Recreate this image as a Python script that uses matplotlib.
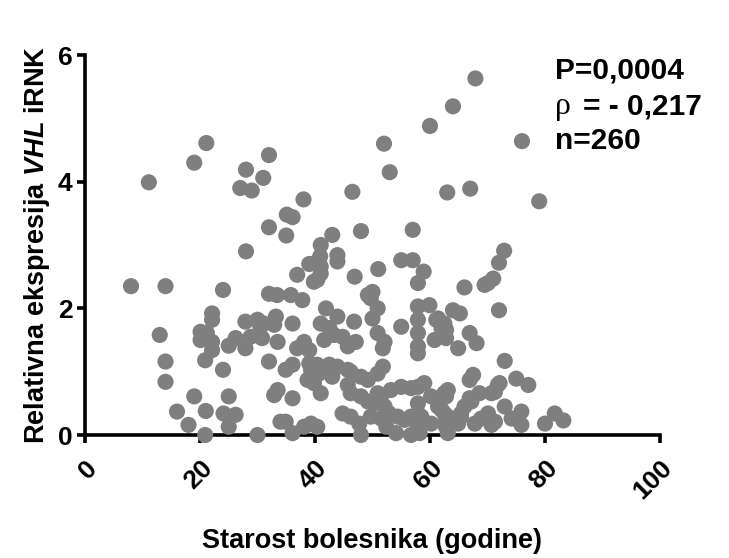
import numpy as np
import matplotlib
matplotlib.use("Agg")
import matplotlib.pyplot as plt

plt.rcParams['font.family'] = ['Liberation Sans', 'DejaVu Sans']
plt.rcParams['mathtext.fontset'] = 'custom'
plt.rcParams['mathtext.it'] = 'Liberation Sans:italic:bold'
plt.rcParams['mathtext.rm'] = 'Liberation Sans:bold'

# age (years) and relative VHL mRNA expression
upper_x = [21.1, 19.0, 11.1, 32.0, 28.0, 31.0, 27.0, 29.0, 38.0, 35.1, 36.1, 32.0, 35.0, 43.0, 41.0,
           43.9, 43.9, 40.9, 39.0, 41.0, 41.0, 36.9, 28.0, 46.5, 67.9, 64.0, 60.0, 52.0, 76.0, 53.0,
           63.0, 67.0, 79.0, 48.0, 57.0, 72.9, 72.0, 55.0, 57.0, 51.0, 58.9, 46.9, 71.0, 40.4, 39.8, 40.4]
upper_y = [4.61, 4.30, 3.99, 4.42, 4.19, 4.06, 3.90, 3.86, 3.72, 3.48, 3.44, 3.28, 3.15, 3.16, 3.00,
           2.84, 2.74, 2.82, 2.70, 2.66, 2.55, 2.53, 2.90, 3.84, 5.63, 5.19, 4.88, 4.60, 4.64, 4.15,
           3.83, 3.89, 3.69, 3.22, 3.24, 2.91, 2.72, 2.76, 2.76, 2.62, 2.58, 2.50, 2.47, 2.74, 2.42, 2.45]

left_x = [8.0, 14.0, 24.0, 13.0, 14.0, 14.0, 19.0, 16.0, 18.0, 21.0, 20.9, 25.0, 24.1, 26.2, 25.0,
          30.0, 22.1, 22.1, 20.1, 21.2, 20.1, 22.1, 22.1, 20.9, 25.0, 26.2, 27.9, 24.0, 27.9, 30.0,
          31.1, 32.0, 33.2, 32.9, 30.8, 33.5, 32.0, 32.9, 34.0, 28.8, 30.5]
left_y = [2.35, 2.35, 2.29, 1.58, 1.16, 0.84, 0.61, 0.37, 0.16, 0.38, 0.00, 0.61, 0.34, 0.32, 0.13,
          0.00, 1.92, 1.82, 1.63, 1.61, 1.50, 1.47, 1.34, 1.18, 1.41, 1.53, 1.37, 1.03, 1.79, 1.82,
          1.76, 2.23, 1.87, 1.74, 1.53, 1.47, 1.16, 0.63, 0.21, 1.55, 1.71]

mid_x = [57.9, 33.4, 35.8, 37.8, 49.2, 49.7, 50.9, 50.0, 41.9, 43.9, 41.0, 42.5, 46.8, 36.1, 55.0,
         57.9, 57.9, 57.9, 57.9, 57.9, 50.9, 52.1, 51.8, 38.1, 36.9, 39.0, 43.3, 44.8, 45.7, 47.1,
         41.6, 34.9, 36.1, 39.0, 40.4, 42.5, 43.9, 45.7, 39.3, 40.7, 43.0, 38.7, 39.8, 41.0, 46.2,
         48.0, 49.2, 50.9, 51.8, 45.7, 46.2, 48.0, 49.2, 50.9, 33.5, 36.1, 34.9, 36.1, 38.1, 39.3,
         40.4, 44.8, 46.2, 47.7, 48.0, 49.7, 51.5, 52.9, 54.4, 55.6, 56.7, 57.9, 50.3, 51.5, 53.2,
         55.0, 56.7, 57.9, 52.1, 52.4, 54.1, 56.7, 58.2, 50.0]
mid_y = [2.40, 2.21, 2.21, 2.13, 2.21, 2.16, 2.00, 1.84, 2.00, 1.87, 1.76, 1.69, 1.79, 1.76, 1.71,
         1.82, 1.61, 1.40, 1.29, 2.03, 1.61, 1.47, 1.37, 1.47, 1.37, 1.34, 1.58, 1.55, 1.40, 1.47,
         1.50, 1.03, 1.11, 1.13, 1.11, 1.11, 1.08, 1.03, 1.03, 0.97, 0.92, 0.87, 0.82, 0.66, 1.00,
         0.92, 0.87, 0.97, 1.08, 0.79, 0.66, 0.61, 0.53, 0.66, 0.71, 0.58, 0.21, 0.03, 0.13, 0.18,
         0.13, 0.34, 0.29, 0.18, 0.00, 0.29, 0.26, 0.34, 0.29, 0.24, 0.29, 0.34, 0.50, 0.61, 0.71,
         0.76, 0.74, 0.76, 0.45, 0.13, 0.03, 0.00, 0.03, 2.26]

right_x = [66.0, 70.1, 69.5, 72.0, 59.9, 64.0, 65.2, 61.1, 62.0, 60.8, 62.8, 64.9, 66.9, 68.1, 73.0,
           67.5, 66.9, 75.0, 77.1, 71.8, 70.7, 68.6, 67.2, 66.0, 59.0, 62.5, 60.2, 61.4, 62.5, 73.0,
           75.9, 74.2, 75.9, 70.1, 68.9, 67.8, 71.3, 70.7, 65.4, 64.9, 80.0, 81.7, 83.2, 57.9, 58.5,
           57.9, 60.2, 62.5, 63.1, 61.4, 62.5, 62.8, 63.1, 62.8, 62.0, 63.1, 62.8, 66.9, 71.3, 72.1,
           65.4]
right_y = [2.33, 2.40, 2.37, 1.97, 2.05, 1.97, 1.92, 1.82, 1.69, 1.50, 1.53, 1.37, 1.61, 1.45, 1.17,
           0.95, 0.87, 0.89, 0.79, 0.79, 0.66, 0.66, 0.53, 0.45, 0.82, 0.66, 0.61, 0.45, 0.34, 0.45,
           0.37, 0.26, 0.16, 0.34, 0.26, 0.18, 0.21, 0.16, 0.29, 0.18, 0.18, 0.34, 0.23, 0.50, 0.29,
           0.13, 0.18, 0.18, 0.03, 1.84, 1.76, 1.66, 0.71, 0.61, 0.40, 0.29, 0.13, 0.58, 0.68, 0.82,
           0.34]

age = np.array(upper_x + left_x + mid_x + right_x)
expr = np.array(upper_y + left_y + mid_y + right_y)

x_ticks = [0, 20, 40, 60, 80, 100]
y_ticks = [0, 2, 4, 6]

fig = plt.figure(figsize=(7.29, 5.58), dpi=100)
ax = fig.add_axes([0.1166, 0.2204, 0.7887, 0.681])

ax.scatter(age, expr, s=135, color='#7f7f7f', edgecolors='none', clip_on=False, zorder=3)

ax.set_xlim(0, 100)
ax.set_ylim(0, 6)
ax.set_xticks(x_ticks)
ax.set_yticks(y_ticks)
for side in ['top', 'right']:
    ax.spines[side].set_visible(False)
for side in ['left', 'bottom']:
    ax.spines[side].set_linewidth(2.6)
ax.tick_params(width=2.6, length=6, labelsize=19)
ax.tick_params(axis='x', pad=9)
ax.tick_params(axis='y', pad=3)
ax.set_xticklabels([str(t) for t in x_ticks], rotation=45, ha='right', va='top',
                   rotation_mode='anchor', fontweight='bold')
ax.set_yticklabels([str(t) for t in y_ticks], fontweight='bold')

ax.set_xlabel('Starost bolesnika (godine)', fontsize=19.5, fontweight='bold', va='center')
ax.xaxis.set_label_coords(0.5, -0.278)
ax.set_ylabel(r'Relativna ekspresija $\mathit{VHL}$ iRNK', fontsize=19.5, fontweight='bold', labelpad=4)

fig.text(0.762, 0.874, 'P=0,0004', fontsize=21.5, fontweight='bold', va='center')
fig.text(0.762, 0.810, '\u03c1', fontsize=23, family='Liberation Serif', va='center')
fig.text(0.800, 0.810, '= - 0,217', fontsize=21.5, fontweight='bold', va='center')
fig.text(0.762, 0.747, 'n=260', fontsize=21.5, fontweight='bold', va='center')

fig.savefig('out.png', dpi=100)
